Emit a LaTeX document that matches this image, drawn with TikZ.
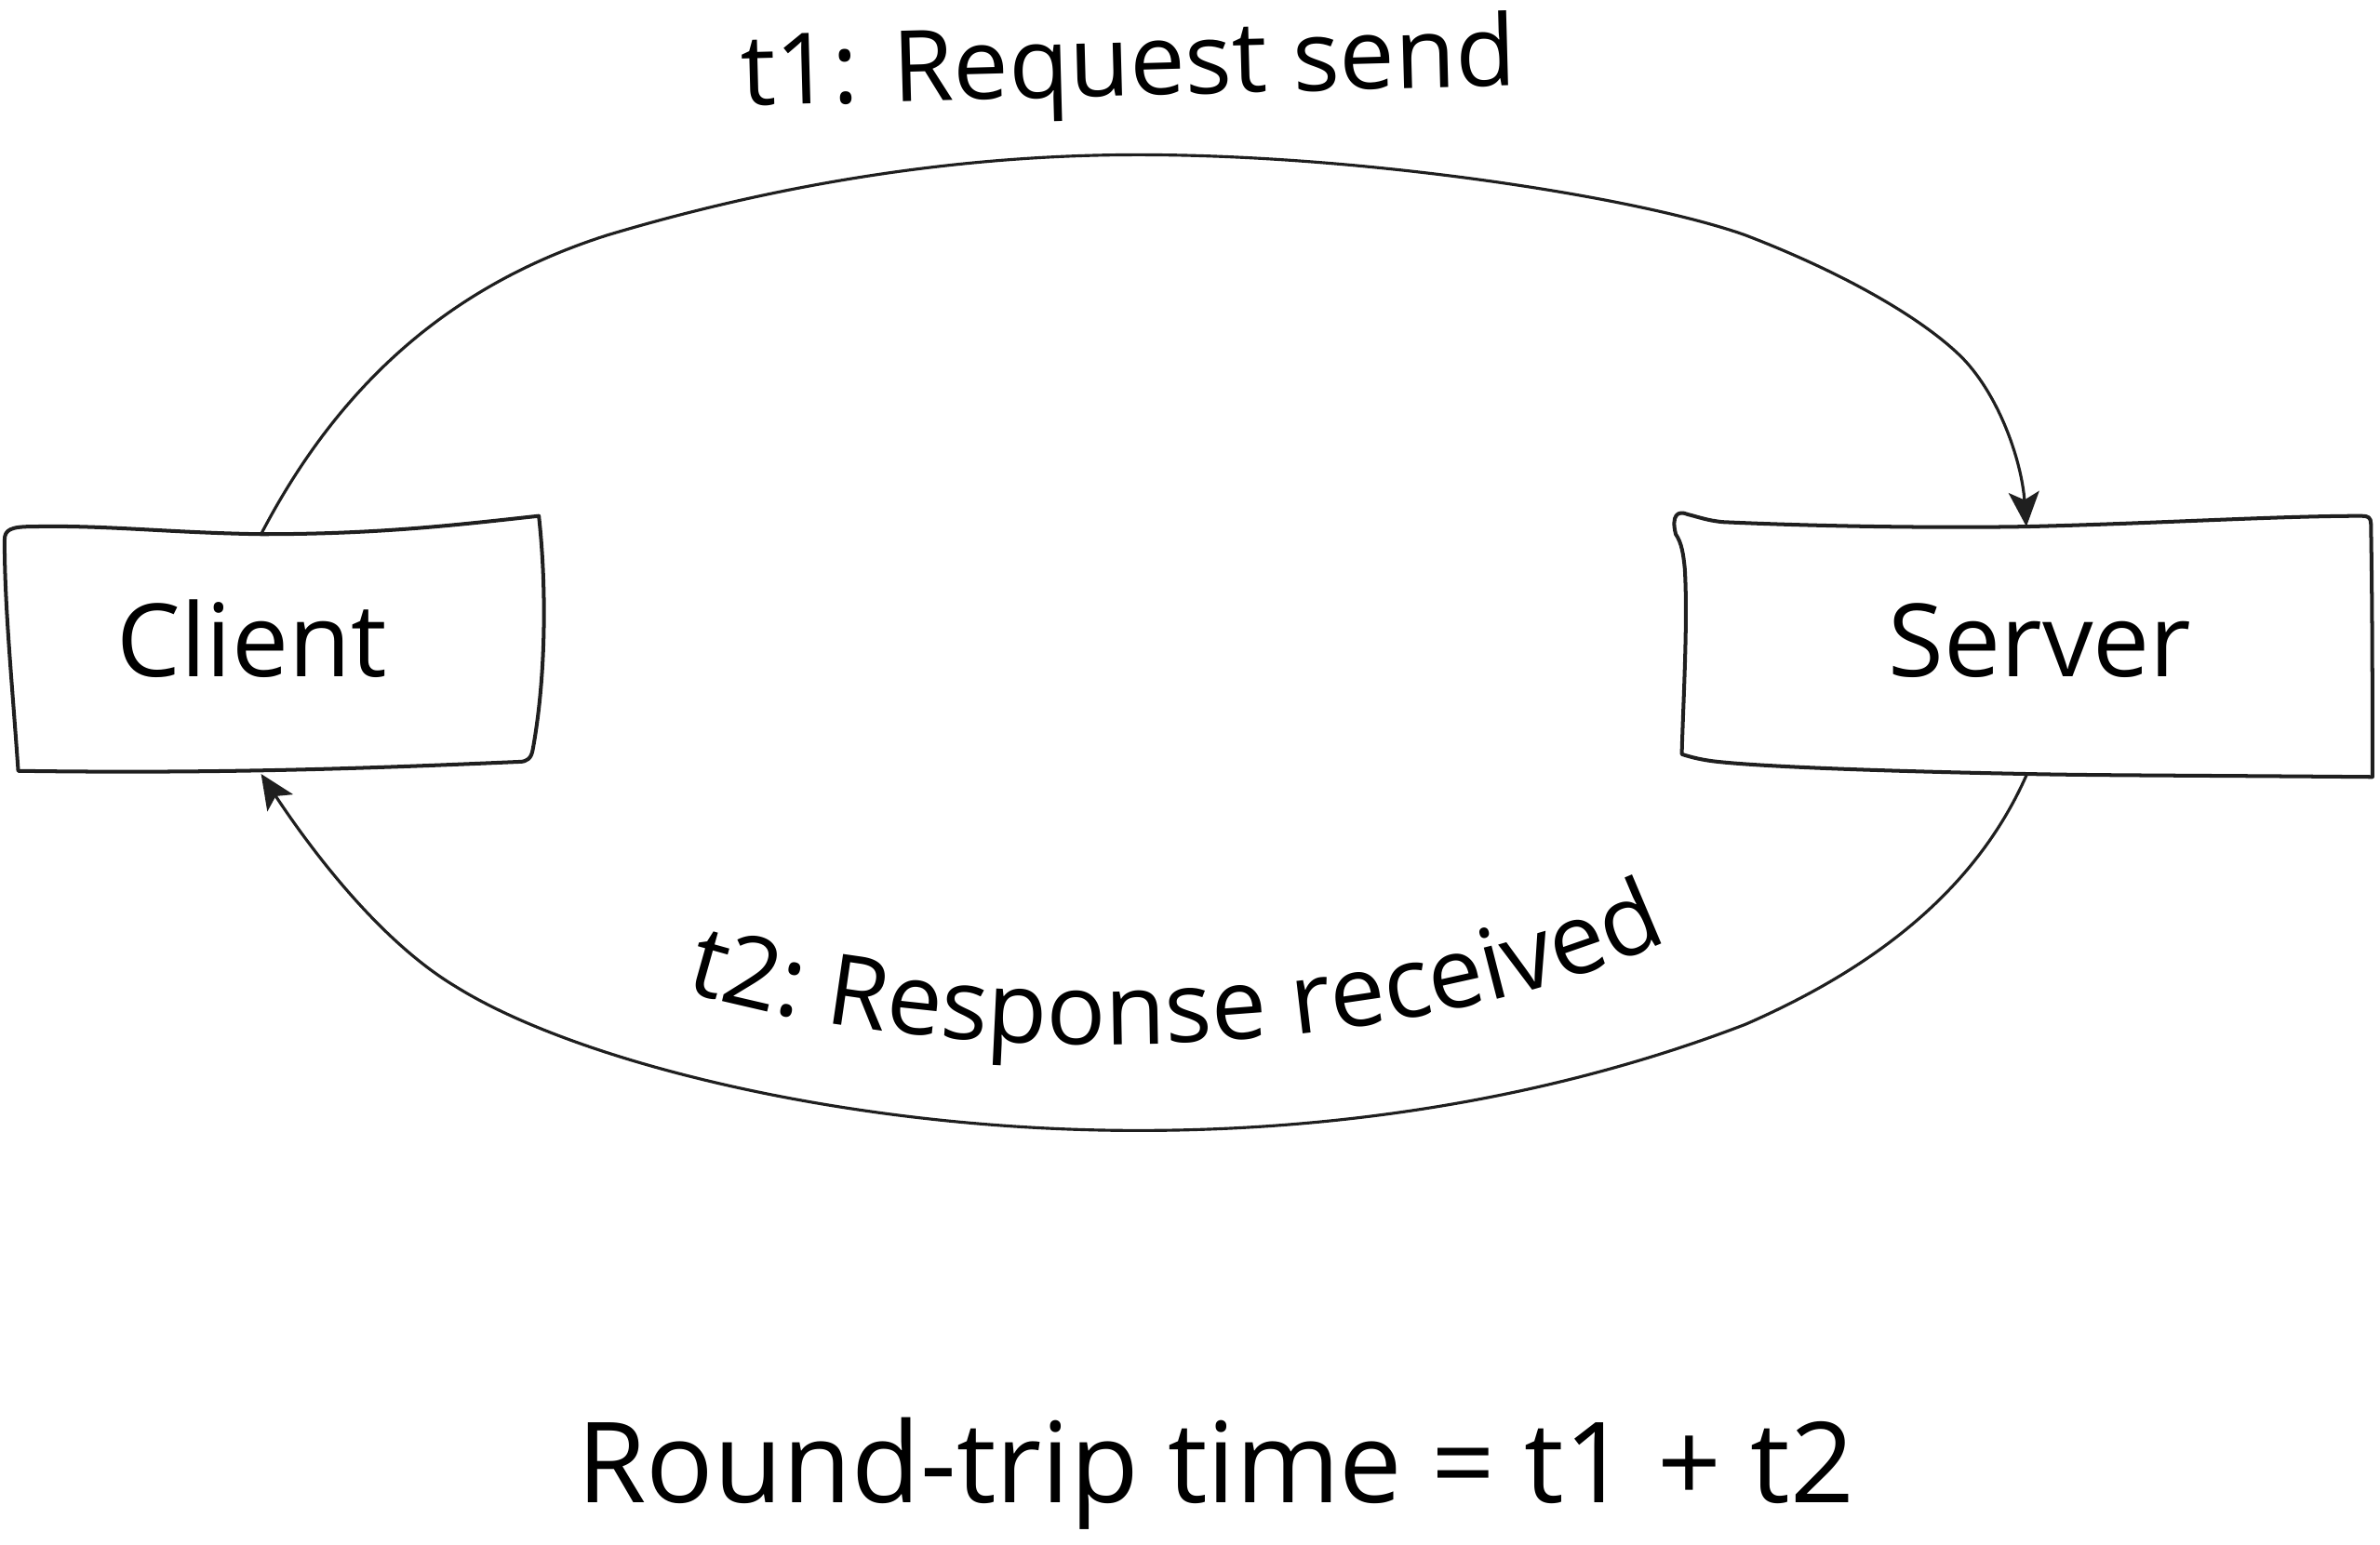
\documentclass[tikz,border=0pt]{standalone}
\usepackage{fontspec}
\setmainfont{Open Sans}
\usetikzlibrary{arrows.meta,decorations.text}
\begin{document}
\begin{tikzpicture}[x=0.02cm,y=-0.02cm,
  boxline/.style={line width=1.4pt, line join=round, draw=black!88},
  conn/.style={line width=1.1pt, draw=black!88, -{Stealth[length=13pt,width=11.5pt,inset=3pt]}},
  lbl/.style={inner sep=0pt, text=black, anchor=base},
  area/.style={inner sep=0pt, draw=none}
]
\fill[white] (0,0) rectangle (1568,1018);
\useasboundingbox (0,0) rectangle (1568,1018);

% invisible nodes for the two boxes
\node[area, minimum width=7.1cm, minimum height=3.2cm] (client) at (181,427) {};
\node[area, minimum width=9.2cm, minimum height=3.4cm] (server) at (1334,425) {};

% hand-drawn outlines
\draw[boxline] (3,356) .. controls (3,349) and (7,347) .. (22,347)
  .. controls (70,346) and (110,351) .. (172,352)
  .. controls (250,352) and (300,346) .. (355,340)
  .. controls (360,385) and (360,445) .. (351,494)
  .. controls (350,500) and (347,502) .. (342,502)
  .. controls (250,506) and (150,510) .. (12,508)
  .. controls (8,450) and (3,400) .. (3,356) -- cycle;
\draw[boxline] (1104,352) .. controls (1101,340) and (1105,336) .. (1112,339)
  .. controls (1120,341) and (1125,343) .. (1135,344)
  .. controls (1200,347) and (1280,348) .. (1335,347)
  .. controls (1420,345) and (1500,340) .. (1556,340)
  .. controls (1560,340) and (1562,341) .. (1562,345)
  .. controls (1563,400) and (1563,460) .. (1563,512)
  .. controls (1450,511) and (1380,511) .. (1335,510)
  .. controls (1230,508) and (1160,505) .. (1132,502)
  .. controls (1122,501) and (1114,499) .. (1108,497)
  .. controls (1109,460) and (1112,410) .. (1110,375)
  .. controls (1109,365) and (1108,358) .. (1104,352) -- cycle;

% box labels
\node[lbl, font=\fontsize{38}{44}\selectfont] (clientlabel) at (166,446) {Client};
\node[lbl, font=\fontsize{38}{44}\selectfont] (serverlabel) at (1344,446) {Server};

% connector end points on the box edges
\coordinate (ctop) at (172,352);
\coordinate (cbot) at (172,510);
\coordinate (stop) at (1335,347);
\coordinate (sbot) at (1335,511);

% request arrow
\draw[conn] (ctop) .. controls (220,260) and (290,190) .. (400,155)
  .. controls (500,125) and (620,102) .. (750,102)
  .. controls (900,102) and (1080,130) .. (1150,155)
  .. controls (1210,178) and (1265,208) .. (1293,236)
  .. controls (1318,262) and (1332,305) .. (stop);

% response arrow
\draw[conn] (sbot) .. controls (1300,590) and (1230,640) .. (1150,675)
  .. controls (1020,725) and (880,745) .. (750,745)
  .. controls (560,745) and (380,700) .. (300,650)
  .. controls (250,620) and (205,560) .. (cbot);

% labels
\node[lbl, font=\fontsize{37}{43}\selectfont, rotate=1.5] (reqlabel) at (744,63) {t1: Request send};
\path[decorate, decoration={text along path, text align=center,
  text={|\fontsize{37}{43}\selectfont|t2: Response received}}]
  (448,652) .. controls (620,705) and (920,705) .. (1102,618);
\node[lbl, font=\fontsize{42}{48}\selectfont] (rtt) at (801,990) {Round-trip time = t1 + t2};
\end{tikzpicture}
\end{document}
